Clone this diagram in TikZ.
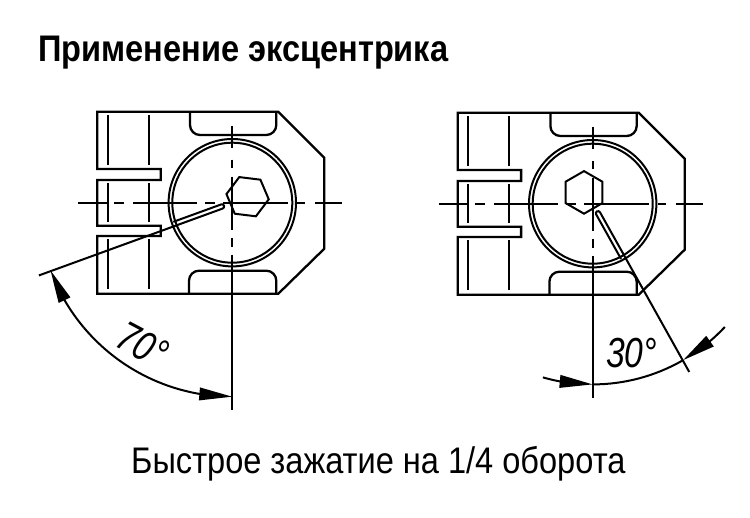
\documentclass[tikz,border=0pt]{standalone}
\usepackage{fontspec}
\setmainfont{Liberation Sans}[FakeStretch=0.88]
\newfontfamily\anglefont{Liberation Sans}[FakeStretch=0.8]
\usetikzlibrary{arrows.meta,bending,shapes.geometric}
\tikzstyle{outline}=[line width=2.3pt, line join=miter]
\tikzstyle{thin outline}=[line width=2pt]
\tikzstyle{hexnut}=[draw, line width=2pt, regular polygon, regular polygon sides=6, minimum size=42.6pt, inner sep=0pt, outer sep=0pt]
\tikzstyle{dimtip}=[-{Triangle[length=33pt,width=12.5pt,flex]}]
\tikzstyle{title}=[inner sep=0pt, anchor=base west, font=\fontsize{37}{37}\selectfont\bfseries]
\tikzstyle{caption}=[inner sep=0pt, anchor=base west, font=\fontsize{37}{37}\selectfont]
\tikzstyle{angle label}=[inner sep=0pt, font=\anglefont\fontsize{42}{42}\selectfont\itshape]

% clamp body, drawn round the centre of the eccentric; #1 = end of the long axis
\newcommand{\clampbody}[1]{
\draw[outline] (-135,91) -- (46,91) -- (92,45) -- (92,-46) -- (46,-91) -- (-135,-91)
  -- (-135,-33.3) -- (-71.6,-33.3) -- (-71.6,-23) -- (-135,-23) -- (-135,22.7)
  -- (-71.6,22.7) -- (-71.6,33.7) -- (-135,33.7) -- cycle;
\foreach \x in {-124.6,-83.6} {
  \draw[thin outline] (\x,87.7) -- (\x,37.7) (\x,19.7) -- (\x,-19.3) (\x,-36.3) -- (\x,-86.3);
}
\draw[outline] (-42.3,91) -- (-42.3,77.7) arc[start angle=180,end angle=270,radius=10]
  -- (34,67.7) arc[start angle=270,end angle=360,radius=10] -- (44,91);
\draw[outline] (-43.3,-91) -- (-43.3,-78) arc[start angle=180,end angle=90,radius=10]
  -- (34,-68) arc[start angle=90,end angle=0,radius=10] -- (44,-91);
\draw[thin outline] (0,0) circle[radius=63.7] (0,0) circle[radius=60];
\draw[thin outline] (-154,0) -- (-125,0) (-118,0) -- (-108,0) (-99,0) -- (-35,0)
  (-27,0) -- (-17,0) (-9,0) -- (56,0) (65,0) -- (73,0) (83,0) -- (110,0);
\draw[thin outline] (0,77) -- (0,55) (0,43) -- (0,35) (0,26) -- (0,-27)
  (0,-35) -- (0,-44) (0,-52) -- (0,#1);
}
% slit of the lever: #1 = direction, #2 = length of the long side
\newcommand{\leverslit}[2]{
\draw[thin outline, rotate=#1] (#2,2.2) -- (11,2.2) arc[start angle=90,end angle=270,radius=2.2] -- (62,-2.2);
}

\begin{document}
\begin{tikzpicture}[x=1pt,y=1pt]
\useasboundingbox (0,-517) rectangle (750,0);
\node[title] (heading) at (38,-61.7) {Применение эксцентрика};

% left view, 70 degrees
\begin{scope}[shift={(232.3,-202.7)}]
\clampbody{-207}
\node[hexnut, rotate=-7] (hexA) at (15.3,6) {};
\leverslit{200}{206.6}
\draw[thin outline, dimtip] (220:194) arc[start angle=220,end angle=200.4,radius=194];
\draw[thin outline, dimtip] (220:194) arc[start angle=220,end angle=270,radius=194];
\node[angle label, rotate=-28] (angleA) at (-90,-142) {70°};
\end{scope}

% right view, 30 degrees
\begin{scope}[shift={(592.7,-203.7)}]
\clampbody{-194}
\node[hexnut, rotate=30] (hexB) at (-8.7,11.3) {};
\leverslit{299.2}{194}
\draw[thin outline] (270:180.7) arc[start angle=270,end angle=300,radius=180.7];
\draw[thin outline, dimtip] (254:180.7) arc[start angle=254,end angle=270,radius=180.7];
\draw[thin outline, dimtip] (317:180.7) arc[start angle=317,end angle=300,radius=180.7];
\node[angle label] (angleB) at (39,-149) {30°};
\end{scope}

\node[caption] (note) at (131,-473) {Быстрое зажатие на 1/4 оборота};
\end{tikzpicture}
\end{document}
